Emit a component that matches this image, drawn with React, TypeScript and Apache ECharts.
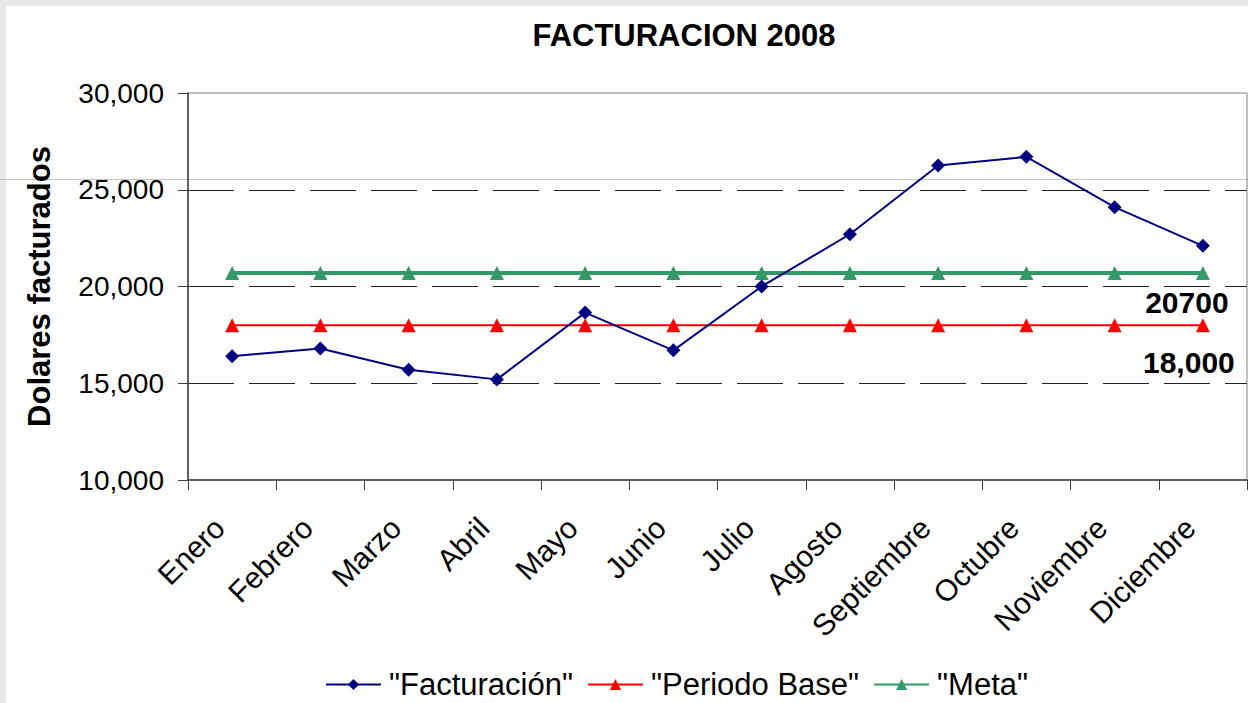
import React, { useEffect, useRef } from "react";
import * as echarts from "echarts";

const months = ["Enero", "Febrero", "Marzo", "Abril", "Mayo", "Junio", "Julio", "Agosto", "Septiembre", "Octubre", "Noviembre", "Diciembre"];
const facturacion = [16400, 16800, 15700, 15200, 18650, 16700, 20000, 22700, 26250, 26700, 24100, 22100];
const periodoBase = [18000, 18000, 18000, 18000, 18000, 18000, 18000, 18000, 18000, 18000, 18000, 18000];
const meta = [20700, 20700, 20700, 20700, 20700, 20700, 20700, 20700, 20700, 20700, 20700, 20700];
const seriesNames = ['"Facturación"', '"Periodo Base"', '"Meta"'];
const metaLabel = "20700";
const baseLabel = "18,000";

const FONT = "'Liberation Sans', Arial, sans-serif";

export default function App() {
  const ref = useRef<HTMLDivElement>(null);
  useEffect(() => {
    document.body.style.margin = "0";
    const chart = echarts.init(ref.current!, null, { renderer: "svg" });
    const last = months.length - 1;
    const withLastLabel = (arr: number[], text: string, offset: number[]) =>
      arr.map((v, i) =>
        i === last
          ? {
              value: v,
              label: {
                show: true,
                formatter: text,
                position: "inside",
                offset,
                fontFamily: FONT,
                fontSize: 30,
                fontWeight: "bold",
                color: "#000",
              },
            }
          : v
      );
    chart.setOption({
      animation: false,
      backgroundColor: "#e8e8e8",
      textStyle: { fontFamily: FONT },
      graphic: [
        { type: "rect", z: -10, shape: { x: 6, y: 6, width: 1242, height: 697 }, style: { fill: "#ffffff" } },
        { type: "line", z: -5, shape: { x1: 0, y1: 179.5, x2: 1248, y2: 179.5 }, style: { stroke: "#c4c4c4", lineWidth: 1 } },
      ],
      title: {
        text: "FACTURACION 2008",
        left: 679,
        textAlign: "center",
        top: 15,
        textStyle: { fontFamily: FONT, fontSize: 31, fontWeight: "bold", color: "#000" },
      },
      legend: {
        left: 320,
        top: 664,
        itemWidth: 55,
        itemHeight: 14,
        itemGap: 14,
        textStyle: { fontFamily: FONT, fontSize: 31, color: "#000", padding: [0, 0, 0, 3] },
        data: seriesNames,
      },
      grid: {
        left: 188,
        top: 93,
        width: 1059,
        height: 387,
        show: true,
        borderColor: "#808080",
        borderWidth: 1,
        backgroundColor: "transparent",
      },
      xAxis: {
        type: "category",
        data: months,
        boundaryGap: true,
        axisLine: { show: true, lineStyle: { color: "#404040", width: 1.5 } },
        axisTick: { show: true, length: 10, lineStyle: { color: "#404040" } },
        axisLabel: {
          rotate: 45,
          fontSize: 30,
          color: "#000",
          fontFamily: FONT,
          margin: 30,
          padding: [0, 18, 0, 0],
          interval: 0,
        },
        splitLine: { show: false },
      },
      yAxis: {
        type: "value",
        min: 10000,
        max: 30000,
        interval: 5000,
        name: "Dolares facturados",
        nameLocation: "middle",
        nameRotate: 90,
        nameGap: 133,
        nameTextStyle: { fontFamily: FONT, fontSize: 31, fontWeight: "bold", color: "#000" },
        axisLine: { show: true, lineStyle: { color: "#404040", width: 1.5 } },
        axisTick: { show: true, length: 10, lineStyle: { color: "#404040" } },
        axisLabel: {
          fontSize: 28,
          color: "#000",
          fontFamily: FONT,
          margin: 24,
          formatter: (v: number) => v.toLocaleString("en-US"),
        },
        splitLine: {
          show: true,
          lineStyle: {
            color: ["transparent", "#222", "#222", "#222", "transparent"],
            type: [46, 15],
            width: 1,
          },
        },
      },
      series: [
        {
          name: seriesNames[0],
          type: "line",
          data: facturacion,
          color: "#000080",
          lineStyle: { color: "#000080", width: 2 },
          itemStyle: { color: "#000080" },
          symbol: "diamond",
          symbolSize: 14,
          z: 4,
        },
        {
          name: seriesNames[1],
          type: "line",
          data: withLastLabel(periodoBase, baseLabel, [-14, 37]),
          color: "#ff0000",
          lineStyle: { color: "#ff0000", width: 2 },
          itemStyle: { color: "#ff0000" },
          symbol: "triangle",
          symbolSize: 14,
          z: 3,
        },
        {
          name: seriesNames[2],
          type: "line",
          data: withLastLabel(meta, metaLabel, [-16, 30]),
          color: "#339966",
          lineStyle: { color: "#339966", width: 4 },
          itemStyle: { color: "#339966" },
          symbol: "triangle",
          symbolSize: 14,
          z: 3,
        },
      ],
    });
    return () => chart.dispose();
  }, []);
  return <div ref={ref} style={{ width: 1248, height: 703 }} />;
}
